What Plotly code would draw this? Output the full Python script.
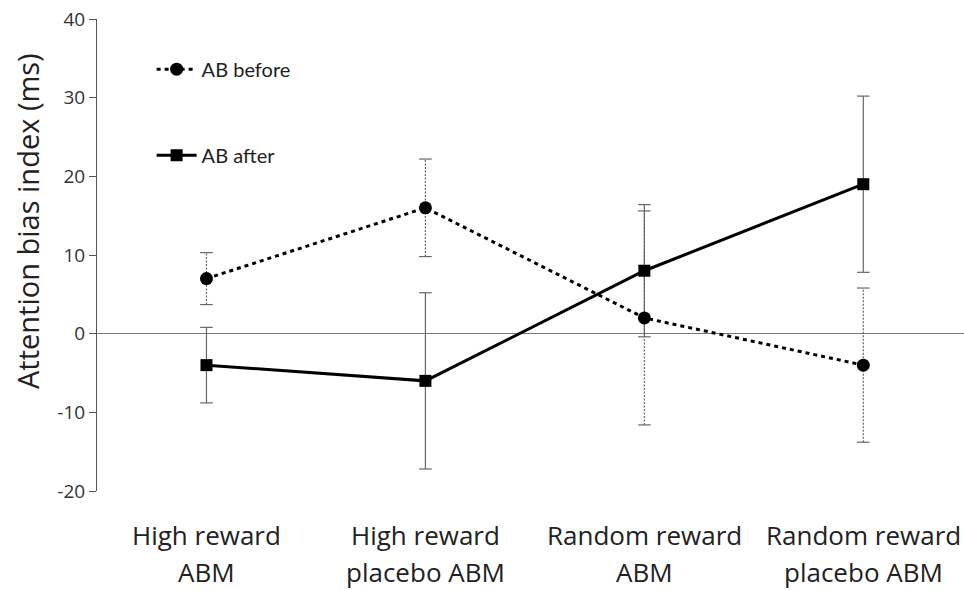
import plotly.graph_objects as go

# Conditions on the x axis (two-line labels)
categories = ["High reward ABM", "High reward placebo ABM",
              "Random reward ABM", "Random reward placebo ABM"]
label_line1 = ["High reward", "High reward", "Random reward", "Random reward"]
label_line2 = ["ABM", "placebo ABM", "ABM", "placebo ABM"]

# Attention bias index (ms), mean and error half-width
ab_before = [7, 16, 2, -4]
ab_before_err = [3.3, 6.2, 13.6, 9.8]
ab_after = [-4, -6, 8, 19]
ab_after_err = [4.8, 11.2, 8.4, 11.2]

y_ticks = [-20, -10, 0, 10, 20, 30, 40]
y_ticktext = ["-20", "-10", "0", "10", "20", "30", "40"]

FONT = "Open Sans"
xs = list(range(len(categories)))


def errbar_path(x, y, e):
    px, py, cx, cy = [], [], [], []
    for xi, yi, ei in zip(x, y, e):
        px += [xi, xi, None]
        py += [yi - ei, yi + ei, None]
        cx += [xi, xi]
        cy += [yi - ei, yi + ei]
    return px, py, cx, cy


fig = go.Figure()

# error bars: dotted for "before", solid for "after"
for vals, errs, dash in [(ab_before, ab_before_err, "2px,1.5px"),
                         (ab_after, ab_after_err, "solid")]:
    px, py, cx, cy = errbar_path(xs, vals, errs)
    fig.add_trace(go.Scatter(x=px, y=py, mode="lines", showlegend=False,
                             hoverinfo="skip",
                             line=dict(color="#666666", width=1.2, dash=dash)))
    fig.add_trace(go.Scatter(x=cx, y=cy, mode="markers", showlegend=False,
                             hoverinfo="skip",
                             marker=dict(symbol="line-ew", size=9,
                                         line=dict(color="#666666", width=1.2))))

fig.add_trace(go.Scatter(x=xs, y=ab_before, name="AB before",
                         mode="lines+markers", legendgroup="a",
                         line=dict(color="black", width=3, dash="4px,4px"),
                         marker=dict(symbol="circle", size=13, color="black")))
fig.add_trace(go.Scatter(x=xs, y=ab_after, name="AB after",
                         mode="lines+markers", legendgroup="b",
                         line=dict(color="black", width=3),
                         marker=dict(symbol="square", size=12, color="black")))

annotations = []
for xi, l1, l2 in zip(xs, label_line1, label_line2):
    annotations.append(dict(x=xi, y=0, xref="x", yref="paper", text=l1,
                            showarrow=False, yanchor="middle", yshift=-44,
                            font=dict(family=FONT, size=26, color="#222222")))
    annotations.append(dict(x=xi, y=0, xref="x", yref="paper", text=l2,
                            showarrow=False, yanchor="middle", yshift=-81,
                            font=dict(family=FONT, size=26, color="#222222")))

annotations.append(dict(x=0, y=1, xref="paper", yref="paper",
                        text="Attention bias index (ms)", textangle=-90,
                        showarrow=False, xanchor="center", yanchor="middle",
                        xshift=-70, yshift=-202,
                        font=dict(family=FONT, size=29, color="#222222")))

fig.update_layout(
    width=964, height=590,
    margin=dict(l=97, r=0, t=19, b=99),
    paper_bgcolor="white", plot_bgcolor="white",
    font=dict(family=FONT, color="#222222"),
    showlegend=True,
    legend=dict(x=0.063, y=0.935, xanchor="left", yanchor="top",
                bgcolor="rgba(0,0,0,0)", traceorder="grouped",
                tracegroupgap=57, itemwidth=40,
                font=dict(family="Lato", size=20, color="#222222")),
    annotations=annotations,
)

fig.update_xaxes(range=[-0.5, 3.46], showticklabels=False, showline=False,
                 showgrid=False, zeroline=False, ticks="")
fig.update_yaxes(range=[-20, 40], tickvals=y_ticks, ticktext=y_ticktext,
                 showgrid=False,
                 showline=True, linecolor="#555555", linewidth=1,
                 ticks="outside", ticklen=7, tickcolor="#555555",
                 tickfont=dict(family=FONT, size=19, color="#333333"),
                 zeroline=True, zerolinecolor="#777777", zerolinewidth=1)

fig.write_html("out.html")
